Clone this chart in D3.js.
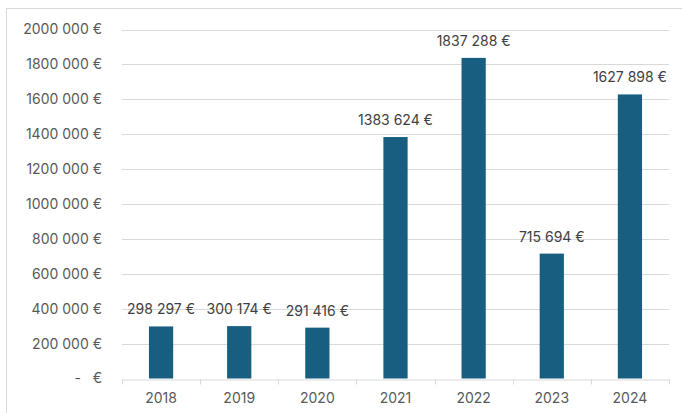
<!DOCTYPE html>
<html>
<head>
<meta charset="utf-8">
<script src="https://cdn.jsdelivr.net/npm/d3@7"></script>
<style>
  body { margin: 0; background: #fff; }
  text { font-family: Inter, "Noto Sans", sans-serif; }
</style>
</head>
<body>
<script>
var width = 682,
    height = 413;

var years = ["2018", "2019", "2020", "2021", "2022", "2023", "2024"];
var amounts = [298297, 300174, 291416, 1383624, 1837288, 715694, 1627898];
var yTicks = [0, 200000, 400000, 600000, 800000, 1000000, 1200000, 1400000, 1600000, 1800000, 2000000];

var barColor = "#175e80";

var svg = d3.select("body").append("svg")
    .attr("width", width)
    .attr("height", height);

// chart frame
svg.append("rect")
    .attr("x", 6.5).attr("y", 8.5)
    .attr("width", 690).attr("height", 420)
    .attr("fill", "none")
    .attr("stroke", "#d9d9d9");

var x = d3.scaleBand().domain(years).range([122, 669]).paddingInner(0).paddingOuter(0);
var y = d3.scaleLinear().domain([0, 2000000]).range([378.5, 29.5]);

// only the last group is split off, as in the source sheet
function euro(v) {
    if (v === 0) return "-   €";
    var hi = Math.floor(v / 1000), lo = v % 1000;
    return hi + " " + d3.format("03d")(lo) + " €";
}

// gridlines
svg.selectAll("line.grid").data(yTicks.slice(1))
    .enter().append("line")
    .attr("class", "grid")
    .attr("x1", 122).attr("x2", 669)
    .attr("y1", function (d) { return Math.round(y(d)) + 0.5; })
    .attr("y2", function (d) { return Math.round(y(d)) + 0.5; })
    .attr("stroke", "#d9d9d9")
    .attr("stroke-width", 1);

// y labels
svg.selectAll("text.ylab").data(yTicks)
    .enter().append("text")
    .attr("class", "ylab")
    .attr("x", 102)
    .attr("y", function (d) { return y(d); })
    .attr("dy", "0.35em")
    .attr("text-anchor", "end")
    .attr("fill", "#595959")
    .style("font-size", "14px")
    .style("white-space", "pre")
    .text(euro);

// bars
var bw = x.bandwidth() * 0.31;
svg.selectAll("rect.bar").data(amounts)
    .enter().append("rect")
    .attr("class", "bar")
    .attr("x", function (d, i) { return x(years[i]) + x.bandwidth() / 2 - bw / 2; })
    .attr("y", function (d) { return y(d); })
    .attr("width", bw)
    .attr("height", function (d) { return y(0) - y(d); })
    .attr("fill", barColor);

// x axis
var xAxis = svg.append("g")
    .attr("transform", "translate(0," + (Math.round(y(0)) + 0.5) + ")")
    .call(d3.axisBottom(x).tickSize(0).tickPadding(14));
xAxis.select(".domain").attr("stroke", "#d9d9d9");
xAxis.selectAll("text").attr("fill", "#595959").style("font-size", "14px");

var edges = x.domain().map(function (d) { return x(d); }).concat([669]);
xAxis.selectAll("line.edge").data(edges)
    .enter().append("line")
    .attr("class", "edge")
    .attr("x1", function (d) { return Math.round(d) + 0.5; })
    .attr("x2", function (d) { return Math.round(d) + 0.5; })
    .attr("y1", 0).attr("y2", 5)
    .attr("stroke", "#d9d9d9");

// data labels
svg.selectAll("text.vlab").data(amounts)
    .enter().append("text")
    .attr("class", "vlab")
    .attr("x", function (d, i) { return x(years[i]) + x.bandwidth() / 2; })
    .attr("y", function (d) { return y(d) - 12; })
    .attr("text-anchor", "middle")
    .attr("fill", "#404040")
    .style("font-size", "14px")
    .text(euro);
</script>
</body>
</html>
